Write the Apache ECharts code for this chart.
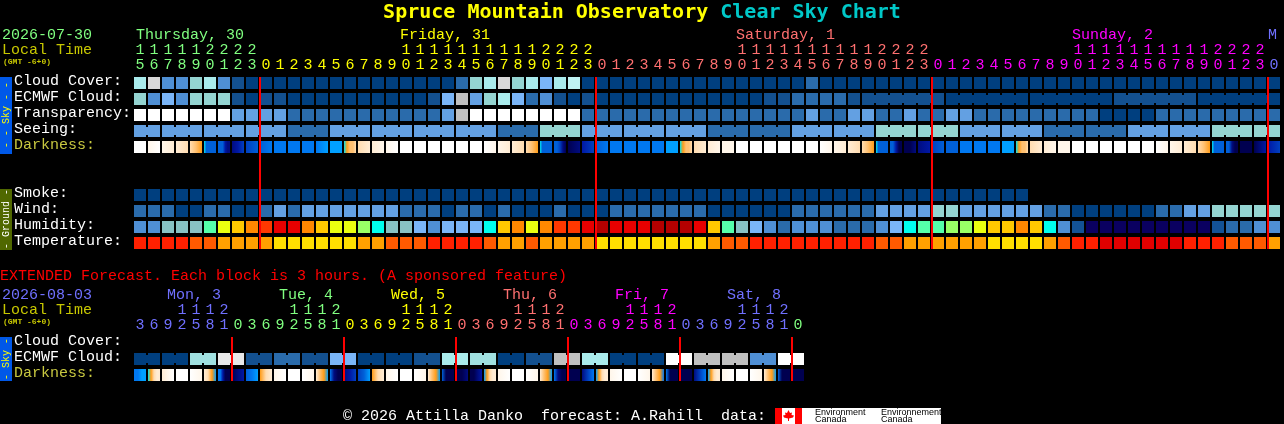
<!DOCTYPE html>
<html><head><meta charset="utf-8">
<style>html,body{margin:0;padding:0;background:#000}#c{width:1284px;height:424px}</style>
<script src="https://cdn.jsdelivr.net/npm/echarts@6/dist/echarts.min.js"></script>
</head><body><div id="c"></div>
<script>
// ---------- tick labels ----------
const mainHours=[15,16,17,18,19,20,21,22,23,
 0,1,2,3,4,5,6,7,8,9,10,11,12,13,14,15,16,17,18,19,20,21,22,23,
 0,1,2,3,4,5,6,7,8,9,10,11,12,13,14,15,16,17,18,19,20,21,22,23,
 0,1,2,3,4,5,6,7,8,9,10,11,12,13,14,15,16,17,18,19,20,21,22,23,
 0];
const extHours=[3,6,9,12,15,18,21,
 0,3,6,9,12,15,18,21, 0,3,6,9,12,15,18,21, 0,3,6,9,12,15,18,21,
 0,3,6,9,12,15,18,21, 0,3,6,9,12,15,18,21, 0];
const mainRowNames=['Cloud Cover:','ECMWF Cloud:','Transparency:','Seeing:','Darkness:','','','Smoke:','Wind:','Humidity:','Temperature:'];
const extRowNames=['Cloud Cover:','ECMWF Cloud:','Darkness:'];
const mainDays=[['Thursday, 30',0],['Friday, 31',19],['Saturday, 1',43],['Sunday, 2',67],['M',81]];
const extDays=['Mon, 3','Tue, 4','Wed, 5','Thu, 6','Fri, 7','Sat, 8'];
// ---------- series values (percent / level per column) ----------
const cloudCover=[70,85,30,30,60,70,30,10,0,0,
 0,0,0,0,0,0,0,0,0,0,
 0,0,0,20,60,70,85,60,70,50,
 70,75,0,0,0,0,0,0,0,0,
 0,0,0,0,0,0,0,0,20,0,
 0,0,0,0,0,0,0,0,0,0,
 0,0,0,0,0,0,0,0,0,0,
 0,0,0,0,0,0,0,0,0,0,
 0,0];
const ecmwfCloud=[60,30,50,30,60,60,60,10,0,10,
 10,0,0,0,0,0,0,0,0,0,
 0,10,50,80,40,60,70,50,20,30,
 10,0,10,0,0,0,0,0,0,0,
 0,0,0,0,0,10,10,20,20,20,
 20,10,10,10,10,10,10,10,0,0,
 0,0,0,0,0,0,0,0,0,0,
 10,10,10,10,10,10,0,0,0,0,
 0,0];
const transparency=[100,100,100,100,100,100,100,40,40,40,
 40,20,20,20,20,20,20,20,20,20,
 20,20,40,80,100,100,100,100,100,100,
 100,100,20,20,20,20,20,20,20,20,
 20,20,20,20,20,20,20,20,40,20,
 20,40,40,20,20,40,20,20,40,40,
 20,20,20,20,20,20,20,20,20,0,
 0,0,0,20,20,20,20,20,20,20,
 20,20];
const seeing=[40,40,40,40,40,40,40,40,40,40,
 40,20,20,20,40,40,40,40,40,40,
 40,40,40,40,40,40,20,20,20,60,
 60,60,40,40,40,40,40,40,40,40,
 40,20,20,20,20,20,20,40,40,40,
 40,40,40,60,60,60,60,60,60,40,
 40,40,40,40,40,20,20,20,20,20,
 20,40,40,40,40,40,40,60,60,60,
 60,60];
const smoke=[0,0,0,0,0,0,0,0,0,0,
 0,0,0,0,0,0,0,0,0,0,
 0,0,0,0,0,0,0,0,0,0,
 0,0,0,0,0,0,0,0,0,0,
 0,0,0,0,0,0,0,0,0,0,
 0,0,0,0,0,0,0,0,0,0,
 0,0,0,0];
const wind=[20,20,20,0,0,20,20,0,0,20,
 40,20,40,40,40,40,40,40,40,20,
 20,20,0,20,20,0,20,0,0,0,
 20,0,0,0,20,20,20,20,20,20,
 20,0,0,0,0,0,0,20,20,20,
 20,20,20,40,40,40,40,60,60,40,
 40,40,40,40,40,20,20,0,0,0,
 0,0,0,20,20,40,40,60,60,60,
 60,60];
const humidity=[40,40,50,50,50,60,70,75,80,85,
 90,90,80,75,70,70,65,55,50,50,
 45,40,45,45,45,55,75,80,70,80,
 85,85,90,95,90,90,90,95,95,95,
 90,75,60,50,45,40,35,40,40,40,
 35,35,35,40,45,55,60,60,65,65,
 70,75,75,80,75,55,40,30,20,20,
 20,20,20,20,20,20,20,30,35,35,
 40,40];
const temperature=[16,16,16,16,18,18,20,20,20,20,
 22,22,22,22,22,22,20,20,18,18,
 18,16,16,16,16,18,20,20,18,20,
 20,20,20,22,22,22,22,22,22,22,
 22,20,18,18,16,16,16,16,16,16,
 16,16,16,18,18,20,20,20,20,20,
 20,22,22,22,22,20,18,16,16,14,
 14,14,14,14,14,16,16,16,18,18,
 18,20];
// darkness: 0 = daylight ... 13 = darkest; several samples across each column
const darkness=[[0],[1,0],[1,2],[2,3],[3,4,5],[6,9,9,9,9,9],[9,9,9,11,12,12],[12,11,10],[10,9],[9,8],
 [8],[8],[8],[8,7],[7],[6,5,4,4,3],[3,2],[2,1],[1,0],[0],
 [0],[0],[0],[0],[0],[0,1],[1,2],[2,3],[3,4,5],[6,9,9,9,9,9],
 [9,9,10,12,13],[13,12],[11,10],[9,8],[8],[8],[8],[8],[7],[6,5,4,4,3],
 [3,2],[2,1],[1,1],[0],[0],[0],[0],[0],[0],[0,1],
 [1,2],[2,3],[3,4,5],[6,9,9,9,9,9],[9,9,11,13,13],[13,13,12],[12,11],[10,9],[9],[8],
 [8],[8],[7],[6,5,4,4,3],[3,2],[2,1],[1,1],[0],[0],[0],
 [0],[0],[0],[0,1],[1,2],[2,3],[3,4,5],[6,9,9,9,9,9],[9,9,12,13,13],[13,13],
 [13,11],[11,10]];
const extEcmwf=[0,0,0,0,65,65,90,90,10,10,20,20,10,10,50,50,0,0,0,0,10,10,70,70,
 65,65,0,0,10,10,80,80,70,70,0,0,0,0,100,100,80,80,80,80,30,30,100,100];
const extDarkness=[[8,8,7,7],[6,5,3,2,2],[2,1,0],[0],[0,1],[2,3,5,7],[8,8,11,13,13,13],[13,12,11],
 [9,8,7],[5,3,2],[1,0],[0],[0,1],[2,4,5,7],[8,12,13,13],[12,11,10],
 [10,9,7],[5,3,2],[1,0],[0],[0,1],[2,4,5,7],[9,13,13,13],[13,13,12],
 [13,13,12,11],[7,5,3,2,2],[1,0],[0],[0,1],[2,4,5,7],[8,12,13,13],[13],
 [12,10,8],[7,5,3,2,2],[1,0],[0],[0,1],[2,4,5,8],[8,13,13,13],[13],
 [12,10,8],[7,5,3,2,2],[1,0],[0],[0,1],[2,4,5,7],[9,13,13,13],[13]];
// ---------- colour scales ----------
const skyScale={0:'#003f7f',10:'#13508f',20:'#2a6bab',30:'#4f8fd4',40:'#63a0e2',50:'#7ab5f7',60:'#94d4d1',65:'#a0e0e0',70:'#a9ebec',75:'#bff3f3',80:'#c0c0c0',85:'#d8d8d8',90:'#e8e8e8',100:'#ffffff'};
const humScale={20:'#0a0060',30:'#135295',35:'#2a6bab',40:'#4f8fd4',45:'#7ab5f7',50:'#88c2c4',55:'#00ffee',60:'#55ffaa',65:'#99ff66',70:'#eaff10',75:'#ffc800',80:'#ff8800',85:'#ff3800',90:'#e80000',95:'#b40000'};
const tempScale={14:'#e00000',16:'#ff2000',18:'#ff5a00',20:'#ffa000',22:'#ffdf00'};
const darkScale=['#ffffff','#fff6ea','#ffecd4','#ffdcb0','#ffc070','#ff9c18','#00e4f0','#00a0ff','#0078f0','#0060d8','#0040c0','#0018a4','#000c80','#000050'];
const GREEN='#80ff80',YELLOW='#ffff00',SALMON='#ff7070',MAGENTA='#ff00ff',PERI='#7070ff';
const mainDayColors=[GREEN,YELLOW,SALMON,MAGENTA,PERI];
const extDayColors=[PERI,GREEN,YELLOW,SALMON,MAGENTA,PERI,GREEN];
// ---------- layout ----------
const MONO='"Liberation Mono","DejaVu Sans Mono",monospace';
const FS=15, L=133, MT=75, ET=335;
const dayColorsFor=(hours,pal)=>{let d=0;return hours.map(h=>{if(h===0)d++;return pal[d];});};
const xData=(hours,cols,fn)=>hours.map((h,i)=>({value:fn(h),textStyle:{color:cols[i]}}));
const mCols=dayColorsFor(mainHours,mainDayColors), eCols=dayColorsFor(extHours,extDayColors);
const units=h=>String(h%10), tens=h=>h>=10?String(Math.floor(h/10)):'';
const xAxis=(grid,data,offset)=>({type:'category',gridIndex:grid,position:'top',data,offset,boundaryGap:true,
 axisLine:{show:false},axisTick:{show:false},splitLine:{show:false},
 axisLabel:{show:true,interval:0,margin:2,fontFamily:MONO,fontSize:FS,hideOverlap:false}});
const rowToken={fontFamily:MONO,fontSize:FS,padding:[0,0,4,0]};
const yAxis=(grid,names)=>({type:'category',gridIndex:grid,inverse:true,data:names,
 axisLine:{show:false},axisTick:{show:false},splitLine:{show:false},
 axisLabel:{show:true,interval:0,align:'left',margin:119,
  formatter:v=>v?('{'+(v==='Darkness:'?'d':'w')+'|'+v+'}'):'',
  rich:{w:Object.assign({color:'#ffffff'},rowToken),d:Object.assign({color:'#c8c840'},rowToken)}}});
// ---------- marks ----------
const rowsToData=rows=>{const out=[];rows.forEach(([row,vals,scale,joined])=>vals.forEach((v,c)=>{
 out.push([c,row,scale[v],joined(c,vals.length)?1:0]);}));return out;};
const never=()=>false;
const seeingJoin=(c,n)=>c<n-1&&(c-1)%3!==0;              // 3-hour seeing blocks
const ecmwfJoin=(c,n)=>c>=52&&c<n-1&&(c-51)%6!==0;       // 6-hour tail of the ECMWF row
const extJoin=(c,n)=>c<n-1&&c%2===0;                     // 6-hour extended blocks
const cellItem=(params,api)=>{
 const p=api.coord([api.value(0),api.value(1)]);
 const cx=p[0],cy=p[1],color=api.value(2);
 const kids=[{type:'rect',shape:{x:cx-6,y:cy-6,width:12,height:12},style:{fill:color}}];
 if(api.value(3))kids.push({type:'rect',shape:{x:cx+6,y:cy-4,width:2,height:8},style:{fill:color}});
 return {type:'group',children:kids};
};
const darkItem=samples=>(params,api)=>{
 const p=api.coord([api.value(0),api.value(1)]);
 const s=samples[api.value(0)];
 const stops=s.length===1?[{offset:0,color:darkScale[s[0]]},{offset:1,color:darkScale[s[0]]}]
   :s.map((v,i)=>({offset:i/(s.length-1),color:darkScale[v]}));
 return {type:'rect',shape:{x:p[0]-6,y:p[1]-6,width:12,height:12},
  style:{fill:{type:'linear',x:0,y:0,x2:1,y2:0,colorStops:stops}}};
};
const lineItem=(rowA,rowB)=>(params,api)=>{
 const c=api.value(0);
 const a=api.coord([c,rowA]),b=api.coord([c,rowB]);
 return {type:'rect',shape:{x:a[0]-7,y:a[1]-6,width:2,height:b[1]-a[1]+12},style:{fill:'#ff0000'}};
};
const base=(xi,yi)=>({type:'custom',xAxisIndex:xi,yAxisIndex:yi,silent:true,animation:false,clip:false,coordinateSystem:'cartesian2d'});
const mainData=rowsToData([[0,cloudCover,skyScale,never],[1,ecmwfCloud,skyScale,ecmwfJoin],[2,transparency,skyScale,never],[3,seeing,skyScale,seeingJoin],
 [7,smoke,skyScale,never],[8,wind,skyScale,never],[9,humidity,humScale,never],[10,temperature,tempScale,never]]);
const extData=rowsToData([[1,extEcmwf,skyScale,extJoin]]);
const midnights=h=>h.map((v,i)=>v===0?[i]:null).filter(Boolean);
const series=[
 Object.assign(base(0,0),{renderItem:cellItem,encode:{x:0,y:1},data:mainData,z:2}),
 Object.assign(base(0,0),{renderItem:darkItem(darkness),encode:{x:0,y:1},data:darkness.map((s,c)=>[c,4]),z:2}),
 Object.assign(base(0,0),{renderItem:lineItem(0,10),encode:{x:0},data:midnights(mainHours),z:5}),
 Object.assign(base(2,1),{renderItem:cellItem,encode:{x:0,y:1},data:extData,z:2}),
 Object.assign(base(2,1),{renderItem:darkItem(extDarkness),encode:{x:0,y:1},data:extDarkness.map((s,c)=>[c,2]),z:2}),
 Object.assign(base(2,1),{renderItem:lineItem(0,2),encode:{x:0},data:midnights(extHours),z:5})
];
// ---------- free text and bars ----------
const txt=(x,y,text,fill,opt)=>Object.assign({type:'text',x,y,silent:true,z:10,
 style:{text,fill,font:(opt&&opt.font)||(FS+'px '+MONO),textVerticalAlign:'middle',textAlign:(opt&&opt.align)||'left'}},opt&&opt.extra);
const vtext=(cx,cy,text,fill)=>({type:'text',x:cx,y:cy,rotation:Math.PI/2,silent:true,z:11,
 style:{text,fill,font:'10px '+MONO,textAlign:'center',textVerticalAlign:'middle'}});
const bar=(x,y,w,h,fill)=>({type:'rect',shape:{x,y,width:w,height:h},style:{fill},silent:true,z:9});
const G=[];
mainDays.forEach(([t,c])=>G.push(txt(L+1+c*14+(c?0:2),35,t,mCols[Math.min(c,81)])));
extDays.forEach((t,i)=>G.push(txt(167+112*i,295,t,eCols[i*8])));
G.push(txt(2,35,'2026-07-30',GREEN),txt(2,50,'Local Time','#c8c800'),txt(3,62,'(GMT -6+0)','#c8c800',{font:'bold 8px '+MONO}));
G.push(txt(2,295,'2026-08-03',PERI),txt(2,310,'Local Time','#c8c800'),txt(3,322,'(GMT -6+0)','#c8c800',{font:'bold 8px '+MONO}));
G.push(txt(0,276,'EXTENDED Forecast. Each block is 3 hours. (A sponsored feature)','#ff0000'));
G.push(bar(0,77,12,77,'#0058e8'),bar(0,189,12,61,'#506800'),bar(0,337,12,44,'#0058e8'));
G.push(vtext(6,115,'- - Sky - -',YELLOW),vtext(6,219,'- Ground -','#ffffff'),vtext(6,359,'- Sky -',YELLOW));
G.push(txt(343,416,'\u00a9 2026 Attilla Danko  forecast: A.Rahill  data:','#ffffff'));
G.push(bar(775,408,166,16,'#ffffff'),bar(775,408,7,16,'#ff0000'),bar(795,408,7,16,'#ff0000'));
G.push({type:'polygon',silent:true,z:11,shape:{points:[[788.5,410],[790,413],[792,412.5],[791.5,415],[794,415.5],[793,417.5],[789,418.5],[789,421],[788,421],[788,418.5],[784,417.5],[783,415.5],[785.5,415],[785,412.5],[787,413]]},style:{fill:'#ff0000'}});
const LOGO='9px "Liberation Sans"';
G.push(txt(815,412.5,'Environment','#000',{font:LOGO}),txt(815,420,'Canada','#000',{font:LOGO}),
 txt(881,412.5,'Environnement','#000',{font:LOGO}),txt(881,420,'Canada','#000',{font:LOGO}));

const chart=echarts.init(document.getElementById('c'),null,{renderer:'canvas',width:1284,height:424});
const titleFont={fontFamily:'"DejaVu Sans Mono"',fontWeight:'bold',fontSize:20};
chart.setOption({
 backgroundColor:'#000',animation:false,tooltip:{show:false},
 title:{left:'center',top:-2,text:'{a|Spruce Mountain Observatory }{b|Clear Sky Chart}',
  textStyle:{rich:{a:Object.assign({color:'#ffff00'},titleFont),b:Object.assign({color:'#00c8c8'},titleFont)}}},
 grid:[{left:L,top:MT,width:82*14,height:11*16,containLabel:false,outerBoundsMode:'none'},{left:L,top:ET,width:48*14,height:3*16,containLabel:false,outerBoundsMode:'none'}],
 xAxis:[xAxis(0,xData(mainHours,mCols,units),0),xAxis(0,xData(mainHours,mCols,tens),15),
        xAxis(1,xData(extHours,eCols,units),0),xAxis(1,xData(extHours,eCols,tens),15)],
 yAxis:[yAxis(0,mainRowNames),yAxis(1,extRowNames)],
 series,
 graphic:{elements:G}
});
</script></body></html>
